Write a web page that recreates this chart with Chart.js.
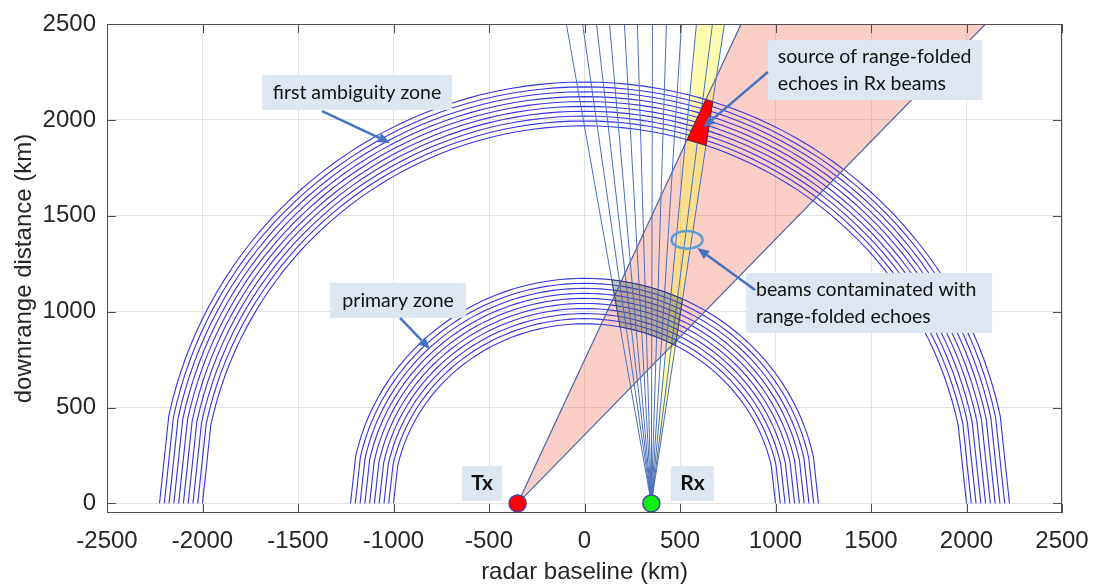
<!DOCTYPE html>
<html>
<head>
<meta charset="utf-8">
<script src="https://cdn.jsdelivr.net/npm/chart.js@4.4.1/dist/chart.umd.min.js"></script>
<style>
  html, body { margin: 0; padding: 0; background: #ffffff; }
  canvas { display: block; }
</style>
</head>
<body>
<canvas id="chart" width="1094" height="585"></canvas>
<script>
// ---- Bistatic radar geometry, all values in km ----
const txPos = [-350, 0];
const rxPos = [350, 0];
// semi-major axes of the constant bistatic-range ellipses (foci at Tx and Rx)
const primaryZone = [1000, 1025, 1050, 1075, 1100, 1125, 1150, 1175, 1200, 1225];
const firstAmbiguityZone = [2000, 2025, 2050, 2075, 2100, 2125, 2150, 2175, 2200, 2225];
// Rx beam edges: x where each edge meets the top of the plot (y = 2500 km)
const rxBeamEdgeTops = [-95, -10, 63, 131, 209, 277, 356, 429, 508, 586, 670, 733];
// the two contaminated Rx beams lie between these edge indices
const rxContaminated = [9, 11];
// Tx beam edges at y = 2500 km
const txBeamEdgeTops = [820, 2100];
const xTicks = [-2500, -2000, -1500, -1000, -500, 0, 500, 1000, 1500, 2000, 2500];
const yTicks = [0, 500, 1000, 1500, 2000, 2500];
const xRange = [-2500, 2500];
const yRange = [-50, 2500];

// ---- geometry helpers ----
const halfBase = (rxPos[0] - txPos[0]) / 2;
const midBase = (rxPos[0] + txPos[0]) / 2;
const rad = d => d * Math.PI / 180;

// constant-range ellipse as drawn: straight run from the ground up to the first elevation step
function rangeArc(a, t0, step) {
  const b = Math.sqrt(a * a - halfBase * halfBase);
  const pts = [{x: midBase + a, y: 0}];
  for (let t = t0; t <= 180 - t0 + 1e-9; t += step) {
    pts.push({x: midBase + a * Math.cos(rad(t)), y: b * Math.sin(rad(t))});
  }
  pts.push({x: midBase - a, y: 0});
  return pts;
}

// closed band between two ellipses
function rangeBand(aIn, aOut) {
  const outer = rangeArc(aOut, 0.5, 0.5);
  const inner = rangeArc(aIn, 0.5, 0.5).reverse();
  return outer.concat(inner);
}

// keep the part of a polygon where f(p) >= 0
function clipHalf(poly, f) {
  const out = [];
  for (let i = 0; i < poly.length; i++) {
    const p = poly[i], q = poly[(i + 1) % poly.length];
    const fp = f(p), fq = f(q);
    if (fp >= 0) out.push(p);
    if ((fp >= 0) !== (fq >= 0)) {
      const t = fp / (fp - fq);
      out.push({x: p.x + t * (q.x - p.x), y: p.y + t * (q.y - p.y)});
    }
  }
  return out;
}

// keep the part of a polygon inside the beam from origin between two top crossings
function clipBeam(poly, origin, leftTop, rightTop) {
  const H = yRange[1] - origin[1];
  const cross = xt => p => (xt - origin[0]) * (p.y - origin[1]) - H * (p.x - origin[0]);
  const left = cross(leftTop), right = cross(rightTop);
  let res = clipHalf(poly, p => -left(p));
  res = clipHalf(res, p => right(p));
  return res;
}

const closed = poly => poly.concat([poly[0]]);
const pt = (x, y) => ({x, y});

// ---- shapes ----
const txBeam = [pt(txPos[0], txPos[1]), pt(txBeamEdgeTops[0], yRange[1]), pt(txBeamEdgeTops[1], yRange[1])];
const rxHot = [pt(rxPos[0], rxPos[1]),
  pt(rxBeamEdgeTops[rxContaminated[0]], yRange[1]),
  pt(rxBeamEdgeTops[rxContaminated[1]], yRange[1])];

let sourcePatch = rangeBand(firstAmbiguityZone[0], firstAmbiguityZone[firstAmbiguityZone.length - 1]);
sourcePatch = clipBeam(sourcePatch, rxPos, rxBeamEdgeTops[rxContaminated[0]], rxBeamEdgeTops[rxContaminated[1]]);
sourcePatch = clipBeam(sourcePatch, txPos, txBeamEdgeTops[0], txBeamEdgeTops[1]);

let primaryPatch = rangeBand(primaryZone[0], primaryZone[primaryZone.length - 1]);
primaryPatch = clipBeam(primaryPatch, rxPos, rxBeamEdgeTops[0], rxBeamEdgeTops[rxBeamEdgeTops.length - 1]);

// ---- datasets (higher order = drawn lower) ----
const lineDefaults = {showLine: true, pointRadius: 0, pointHoverRadius: 0, tension: 0, fill: false};
const datasets = [];

datasets.push(Object.assign({}, lineDefaults, {
  data: closed(txBeam), fill: 'shape', backgroundColor: 'rgba(240,110,85,0.33)',
  borderWidth: 0, borderColor: 'rgba(0,0,0,0)', order: 100
}));
datasets.push(Object.assign({}, lineDefaults, {
  data: closed(rxHot), fill: 'shape', backgroundColor: 'rgba(255,250,40,0.36)',
  borderWidth: 0, borderColor: 'rgba(0,0,0,0)', order: 90
}));
for (const a of primaryZone.concat(firstAmbiguityZone)) {
  datasets.push(Object.assign({}, lineDefaults, {
    data: rangeArc(a, 12, 2), borderColor: '#3434e0', borderWidth: 1.1, order: 80
  }));
}
for (const xt of rxBeamEdgeTops) {
  datasets.push(Object.assign({}, lineDefaults, {
    data: [pt(rxPos[0], rxPos[1]), pt(xt, yRange[1])], borderColor: '#4a6fba', borderWidth: 1, order: 70
  }));
}
for (const xt of txBeamEdgeTops) {
  datasets.push(Object.assign({}, lineDefaults, {
    data: [pt(txPos[0], txPos[1]), pt(xt, yRange[1])], borderColor: '#4a64a8', borderWidth: 1.2, order: 70
  }));
}
datasets.push(Object.assign({}, lineDefaults, {
  data: closed(primaryPatch), fill: 'shape', backgroundColor: 'rgba(70,95,90,0.36)',
  borderColor: 'rgba(40,50,90,0.6)', borderWidth: 1, order: 60
}));
datasets.push(Object.assign({}, lineDefaults, {
  data: closed(sourcePatch), fill: 'shape', backgroundColor: '#ff0000',
  borderColor: '#6a2030', borderWidth: 1, order: 50
}));
datasets.push({
  data: [pt(txPos[0], txPos[1])], showLine: false, pointRadius: 8.5, pointHoverRadius: 8.5,
  pointBackgroundColor: '#ff0000', pointBorderColor: '#4b3c9c', pointBorderWidth: 1.5, clip: false, order: 10
});
datasets.push({
  data: [pt(rxPos[0], rxPos[1])], showLine: false, pointRadius: 8.5, pointHoverRadius: 8.5,
  pointBackgroundColor: '#10ee10', pointBorderColor: '#3c4c9c', pointBorderWidth: 1.5, clip: false, order: 10
});

// ---- call-out boxes (anchors in km) ----
const callouts = [
  {lines: ['first ambiguity zone'], box: [-1688, 2234, -694, 2052], arrow: [-1374, 2046, -1018, 1880]},
  {lines: ['primary zone'], box: [-1332, 1150, -620, 967], arrow: [-966, 967, -809, 805]},
  {lines: ['source of range-folded', 'echoes in Rx beams'], box: [960, 2416, 2081, 2103], arrow: [960, 2250, 622, 1962]},
  {lines: ['beams contaminated with', 'range-folded echoes'], box: [846, 1202, 2134, 889], arrow: [893, 1113, 590, 1332]},
  {lines: ['Tx'], box: [-641, 195, -432, 13], bold: true},
  {lines: ['Rx'], box: [453, 195, 678, 13], bold: true}
];
const ring = {center: [537, 1374], rx: 81, ry: 46};

const framePlugin = {
  id: 'frame',
  afterDatasetsDraw(chart) {
    const {ctx, chartArea: a, scales: {x, y}} = chart;
    ctx.save();
    ctx.strokeStyle = '#4d4d4d';
    ctx.lineWidth = 1;
    ctx.beginPath();
    const tl = 9;
    for (const v of xTicks) {
      const px = Math.round(x.getPixelForValue(v)) + 0.5;
      ctx.moveTo(px, a.bottom); ctx.lineTo(px, a.bottom - tl);
      ctx.moveTo(px, a.top); ctx.lineTo(px, a.top + tl);
    }
    for (const v of yTicks) {
      const py = Math.round(y.getPixelForValue(v)) + 0.5;
      ctx.moveTo(a.left, py); ctx.lineTo(a.left + tl, py);
      ctx.moveTo(a.right, py); ctx.lineTo(a.right - tl, py);
    }
    ctx.stroke();
    ctx.strokeRect(Math.round(a.left) + 0.5, Math.round(a.top) + 0.5,
      Math.round(a.right - a.left) - 1, Math.round(a.bottom - a.top) - 1);
    ctx.restore();
  }
};

function drawArrow(ctx, x0, y0, x1, y1) {
  const ang = Math.atan2(y1 - y0, x1 - x0);
  const hl = 12, hw = 5;
  const bx = x1 - hl * Math.cos(ang), by = y1 - hl * Math.sin(ang);
  ctx.beginPath();
  ctx.moveTo(x0, y0); ctx.lineTo(bx, by);
  ctx.stroke();
  ctx.beginPath();
  ctx.moveTo(x1, y1);
  ctx.lineTo(bx + hw * Math.sin(ang), by - hw * Math.cos(ang));
  ctx.lineTo(bx - hw * Math.sin(ang), by + hw * Math.cos(ang));
  ctx.closePath();
  ctx.fill();
}

const calloutPlugin = {
  id: 'callouts',
  afterDraw(chart) {
    const {ctx, scales: {x, y}} = chart;
    ctx.save();
    // ring around the contaminated beams
    ctx.strokeStyle = '#5b9bd5';
    ctx.lineWidth = 2.5;
    const cx = x.getPixelForValue(ring.center[0]), cy = y.getPixelForValue(ring.center[1]);
    const rxp = x.getPixelForValue(ring.center[0] + ring.rx) - cx;
    const ryp = cy - y.getPixelForValue(ring.center[1] + ring.ry);
    ctx.beginPath();
    ctx.ellipse(cx, cy, rxp, ryp, 0, 0, Math.PI * 2);
    ctx.stroke();
    for (const c of callouts) {
      const l = x.getPixelForValue(c.box[0]), t = y.getPixelForValue(c.box[1]);
      const r = x.getPixelForValue(c.box[2]), b = y.getPixelForValue(c.box[3]);
      ctx.fillStyle = '#dde7f2';
      ctx.fillRect(l, t, r - l, b - t);
      ctx.fillStyle = '#111111';
      ctx.font = c.bold ? "bold 21px 'Lato', sans-serif" : "19.5px 'Lato', sans-serif";
      ctx.textBaseline = 'middle';
      const lh = 27;
      const y0 = (t + b) / 2 - (c.lines.length - 1) * lh / 2;
      if (c.lines.length === 1) {
        ctx.textAlign = 'center';
        c.lines.forEach((s, i) => ctx.fillText(s, (l + r) / 2, y0 + i * lh));
      } else {
        ctx.textAlign = 'left';
        c.lines.forEach((s, i) => ctx.fillText(s, l + 10, y0 + i * lh));
      }
      if (c.arrow) {
        ctx.strokeStyle = '#4472c4';
        ctx.fillStyle = '#4472c4';
        ctx.lineWidth = 2.5;
        drawArrow(ctx, x.getPixelForValue(c.arrow[0]), y.getPixelForValue(c.arrow[1]),
          x.getPixelForValue(c.arrow[2]), y.getPixelForValue(c.arrow[3]));
      }
    }
    ctx.restore();
  }
};

const tickFont = {family: "'Liberation Sans', Arial, sans-serif", size: 24};
const textColor = '#262626';

new Chart(document.getElementById('chart'), {
  type: 'scatter',
  data: {datasets},
  options: {
    responsive: false,
    maintainAspectRatio: false,
    animation: false,
    devicePixelRatio: 1,
    events: [],
    layout: {padding: {top: 24, right: 32, left: 0, bottom: 0}},
    plugins: {legend: {display: false}, tooltip: {enabled: false}},
    scales: {
      x: {
        type: 'linear', min: xRange[0], max: xRange[1],
        afterBuildTicks: s => { s.ticks = xTicks.map(v => ({value: v})); },
        afterFit: s => { s.height = 72; s.paddingLeft = 0; s.paddingRight = 0; },
        ticks: {font: tickFont, color: textColor, padding: 14, maxRotation: 0, autoSkip: false, callback: v => String(v)},
        grid: {color: '#e3e3e3', lineWidth: 1, drawTicks: false},
        border: {display: false},
        title: {display: true, text: 'radar baseline (km)', color: textColor,
          font: {family: "'Liberation Sans', Arial, sans-serif", size: 24, lineHeight: 1}, padding: {top: 0, bottom: 1}}
      },
      y: {
        type: 'linear', min: yRange[0], max: yRange[1],
        afterBuildTicks: s => { s.ticks = yTicks.map(v => ({value: v})); },
        afterFit: s => { s.width = 107; s.paddingTop = 0; s.paddingBottom = 0; },
        ticks: {font: tickFont, color: textColor, padding: 11, autoSkip: false, callback: v => String(v)},
        grid: {color: '#e3e3e3', lineWidth: 1, drawTicks: false},
        border: {display: false},
        title: {display: true, text: 'downrange distance (km)', color: textColor,
          font: {family: "'Liberation Sans', Arial, sans-serif", size: 24, lineHeight: 1}, padding: {top: 12, bottom: 0}}
      }
    }
  },
  plugins: [framePlugin, calloutPlugin]
});
</script>
</body>
</html>
